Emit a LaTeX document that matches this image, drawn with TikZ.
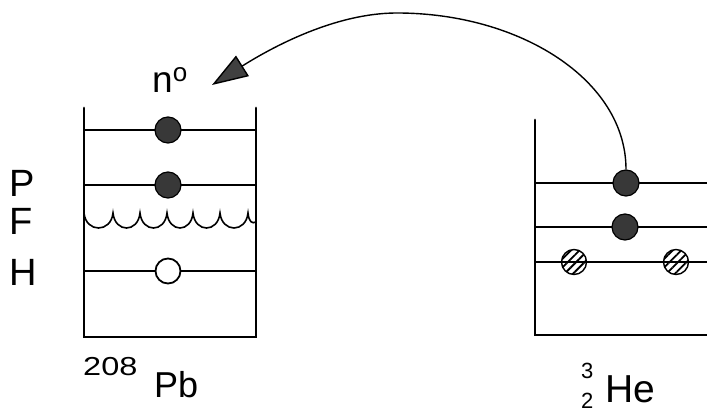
\documentclass[tikz,border=0pt]{standalone}
\usepackage{fontspec}
\setmainfont{Liberation Sans}
\usetikzlibrary{arrows.meta,patterns.meta}
\begin{document}
\begin{tikzpicture}[x=1pt,y=-1pt,
  wall/.style={line width=2.8pt, line cap=round},
  level/.style={line width=1.4pt},
  filleddot/.style={circle, draw, line width=1.2pt, minimum size=26pt, inner sep=0pt, fill=black!78},
  opendot/.style={circle, draw, line width=1.8pt, minimum size=25pt, inner sep=0pt, fill=white},
  hatchdot/.style={circle, draw, line width=1.4pt, minimum size=25pt, inner sep=0pt,
    pattern={Lines[angle=45,distance=6pt,line width=1.8pt]}},
  lbl/.style={inner sep=0pt, anchor=base west}]
\useasboundingbox (0,0) rectangle (707,414);

% ---- left well (208Pb) ----
\draw[wall] (84,108) -- (84,337) -- (256,337) -- (256,108);
\draw[level] (84,130) -- (256,130);
\draw[level] (84,185) -- (256,185);
\draw[level] (84,271) -- (256,271);
% wavy (Fermi) line
\draw[level, line width=1.6pt] (84,213)
  .. controls (86,233) and (111,233) .. (113,213)
  .. controls (115,233) and (138,233) .. (140,213)
  .. controls (142,233) and (165,233) .. (167,213)
  .. controls (169,233) and (191,233) .. (193,213)
  .. controls (195,233) and (218,233) .. (220,213)
  .. controls (222,233) and (246,233) .. (248,213)
  .. controls (249,222) and (252,224) .. (256,222);

\node[filleddot] (pb1) at (168,130) {};
\node[filleddot] (pb2) at (168,185) {};
\node[opendot]   (pbh) at (168,271) {};

% ---- right well (3He) ----
\draw[wall] (535,120) -- (535,335) -- (712,335);
\draw[level] (535,183) -- (712,183);
\draw[level] (535,227) -- (712,227);
\draw[level] (535,262) -- (712,262);

\node[filleddot] (he1) at (626,183) {};
\node[filleddot] (he2) at (625,227) {};
\node[hatchdot]  (he3) at (574,262) {};
\node[hatchdot]  (he4) at (676,262) {};

% ---- transfer arrow ----
\coordinate (tip) at (212,85);
\draw[line width=1.4pt, -{Triangle[length=36pt,width=24pt,fill=black!75]}]
  (he1.north) .. controls (626,80) and (520,13) .. (397,13)
  .. controls (330,13) and (263,53) .. (tip);

% ---- labels ----
\node[lbl, font=\fontsize{38}{38}\selectfont] (lp) at (9,197) {P};
\node[lbl, font=\fontsize{38}{38}\selectfont] (lf) at (9,235) {F};
\node[lbl, font=\fontsize{38}{38}\selectfont] (lh) at (9,285) {H};

\node[lbl, font=\fontsize{37}{37}\selectfont] (nlab) at (152,93)
  {n\raisebox{11pt}{\fontsize{26}{26}\selectfont o}};

\node[lbl, font=\fontsize{26}{26}\selectfont] (a208) at (83,375) {\scalebox{1.25}[1]{208}};
\node[lbl, font=\fontsize{36}{36}\selectfont] (pb) at (154,397) {Pb};

\node[lbl, font=\fontsize{22}{22}\selectfont] (a3) at (581,378) {3};
\node[lbl, font=\fontsize{22}{22}\selectfont] (z2) at (581,408) {2};
\node[lbl, font=\fontsize{39}{39}\selectfont] (he) at (605,402) {He};
\end{tikzpicture}
\end{document}
